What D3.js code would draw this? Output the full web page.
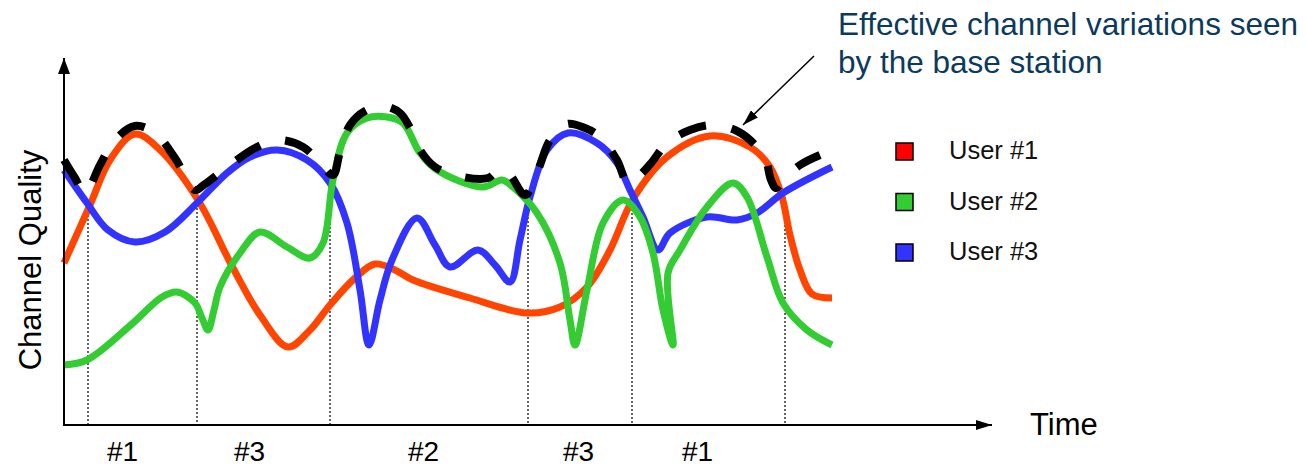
<!DOCTYPE html>
<html>
<head>
<meta charset="utf-8">
<script src="https://cdn.jsdelivr.net/npm/d3@7"></script>
<style>
  html, body { margin: 0; padding: 0; background: #fff; }
  svg { display: block; font-family: Arial, "Liberation Sans", sans-serif; }
</style>
</head>
<body>
<svg id="chart" width="1307" height="468"></svg>
<script>
// ---- data (time units, quality units) ----
const user1 = [[0,162],[26,220],[46,265],[71,291],[96,275],[134,225],[169,157],[196,110],[224,78],[246,95],[266,120],[291,147],[311,161],[331,155],[349,145],[406,127],[463,112],[496,118],[523,138],[546,175],[569,226],[603,268],[646,289],[686,278],[706,258],[718,228],[726,190],[736,155],[748,131],[768,127]];
const user2 = [[0,60],[23,65],[69,102],[98,128],[113,133],[131,122],[138,107],[144,95],[150,115],[156,138],[176,172],[196,193],[223,178],[246,167],[259,182],[269,245],[283,292],[303,307],[323,308],[339,302],[356,272],[373,255],[419,238],[438,245],[449,238],[473,212],[496,162],[506,105],[511,80],[523,135],[539,202],[559,225],[576,208],[589,172],[599,115],[609,80],[604,152],[616,175],[643,218],[669,242],[683,228],[703,168],[719,122],[743,95],[768,80]];
const user3 = [[0,255],[23,222],[44,195],[71,183],[101,193],[134,223],[163,252],[186,268],[213,275],[243,265],[266,242],[283,202],[296,135],[305,80],[316,125],[328,165],[353,207],[371,180],[386,158],[414,175],[431,160],[446,143],[456,185],[466,228],[483,275],[504,292],[533,282],[553,262],[566,235],[579,208],[594,175],[606,192],[643,208],[673,205],[693,212],[719,232],[768,258]];
const effective = [[0,265],[11,247],[21,232],[36,260],[51,285],[71,299],[91,292],[111,267],[131,235],[141,241],[166,260],[191,277],[214,285],[239,278],[258,260],[269,250],[276,273],[286,300],[301,314],[319,319],[336,312],[346,297],[356,275],[371,258],[399,248],[424,247],[436,256],[446,250],[461,230],[474,255],[486,285],[503,301],[521,297],[536,288],[553,265],[564,242],[576,250],[588,263],[603,282],[626,295],[648,300],[671,295],[686,285],[701,267],[707,245],[712,237],[721,247],[736,260],[756,270]];
const switchPoints = [[24,222],[133,225],[266,238],[464,232],[568,232],[721,232]];
const slotTimes = [58,185,359,514,633];
const slotLabels = ["#1","#3","#2","#3","#1"];
const users = ["User #1","User #2","User #3"];
const lineColors = ["#ff4500","#33cc33","#3333ff"];
const legendColors = ["#ff0000","#33cc33","#3333ff"];
const axisTitles = { x: "Time", y: "Channel Quality" };
const annotation = ["Effective channel variations seen", "by the base station"];

// ---- layout ----
const svg = d3.select("#chart");
const x = d3.scaleLinear().domain([0, 928]).range([64, 992]);
const y = d3.scaleLinear().domain([0, 367]).range([425, 58]);

const defs = svg.append("defs");
defs.append("marker").attr("id","arrowY").attr("viewBox","0 0 16 12")
  .attr("refX",16).attr("refY",6).attr("markerWidth",16).attr("markerHeight",12)
  .attr("markerUnits","userSpaceOnUse").attr("orient","auto")
  .append("path").attr("d","M0,0 L16,6 L0,12 Z").attr("fill","#000");
defs.append("marker").attr("id","arrowHead").attr("viewBox","0 0 16 10")
  .attr("refX",16).attr("refY",5).attr("markerWidth",16).attr("markerHeight",10)
  .attr("markerUnits","userSpaceOnUse").attr("orient","auto")
  .append("path").attr("d","M0,0 L16,5 L0,10 Z").attr("fill","#000");

// dotted switch lines
svg.append("g").selectAll("line").data(switchPoints).join("line")
  .attr("x1", d => x(d[0])).attr("x2", d => x(d[0]))
  .attr("y1", d => y(d[1])).attr("y2", y(0))
  .attr("stroke","#000").attr("stroke-width",1.2).attr("stroke-dasharray","2,2");

const line = d3.line().x(d => x(d[0])).y(d => y(d[1])).curve(d3.curveCatmullRom.alpha(0.5));

// user curves
const series = [user1, user3, user2];
const seriesColor = [lineColors[0], lineColors[2], lineColors[1]];
svg.append("g").selectAll("path").data(series).join("path")
  .attr("d", d => line(d)).attr("fill","none")
  .attr("stroke", (d,i) => seriesColor[i]).attr("stroke-width",7)
  .attr("stroke-linejoin","round").attr("stroke-linecap","butt");

// effective envelope: dashes that start and end with a full dash
const env = svg.append("path").attr("d", line(effective)).attr("fill","none")
  .attr("stroke","#000").attr("stroke-width",8);
const L = env.node().getTotalLength();
const dash = 28;
const n = Math.max(1, Math.floor((L - dash) / 52));
const gap = (L - dash) / n - dash;
env.attr("stroke-dasharray", `${dash},${gap}`);

// axes
const xAxis = d3.axisBottom(x).tickValues(slotTimes).tickFormat((d,i) => slotLabels[i])
  .tickSize(0).tickPadding(16).tickSizeOuter(0);
const gx = svg.append("g").attr("transform", `translate(0,${y(0)})`).call(xAxis);
gx.select(".domain").remove();
gx.selectAll("text").attr("font-size", 28).attr("font-family","Arial, 'Liberation Sans', sans-serif").attr("fill","#000");

svg.append("line").attr("x1", x(0)).attr("x2", x(928)).attr("y1", y(0)).attr("y2", y(0))
  .attr("stroke","#000").attr("stroke-width",2).attr("marker-end","url(#arrowHead)");
svg.append("line").attr("x1", x(0)).attr("x2", x(0)).attr("y1", y(0)+1).attr("y2", y(367))
  .attr("stroke","#000").attr("stroke-width",2).attr("marker-end","url(#arrowY)");

svg.append("text").attr("x", 1030).attr("y", 435).attr("font-size", 31).attr("fill","#000")
  .text(axisTitles.x);
svg.append("text").attr("transform", "translate(41,260) rotate(-90)").attr("text-anchor","middle")
  .attr("font-size", 31).attr("fill","#000").text(axisTitles.y);

// legend
const lg = svg.append("g").selectAll("g").data(users).join("g")
  .attr("transform", (d,i) => `translate(896,${143 + i*50.5})`);
lg.append("rect").attr("width",17).attr("height",17).attr("fill",(d,i) => legendColors[i])
  .attr("stroke","#000").attr("stroke-width",1.5);
lg.append("text").attr("x", 53).attr("y", 16).attr("font-size", 25.5).attr("fill","#111").text(d => d);

// annotation
svg.append("text").attr("x", 838).attr("y", 35).attr("font-size", 31.5).attr("fill","#0b3a5e")
  .selectAll("tspan").data(annotation).join("tspan")
  .attr("x", 838).attr("dy", (d,i) => i ? 38 : 0).text(d => d);
svg.append("line").attr("x1", 814).attr("y1", 56).attr("x2", 743).attr("y2", 125)
  .attr("stroke","#000").attr("stroke-width",1.5).attr("marker-end","url(#arrowHead)");
</script>
</body>
</html>
